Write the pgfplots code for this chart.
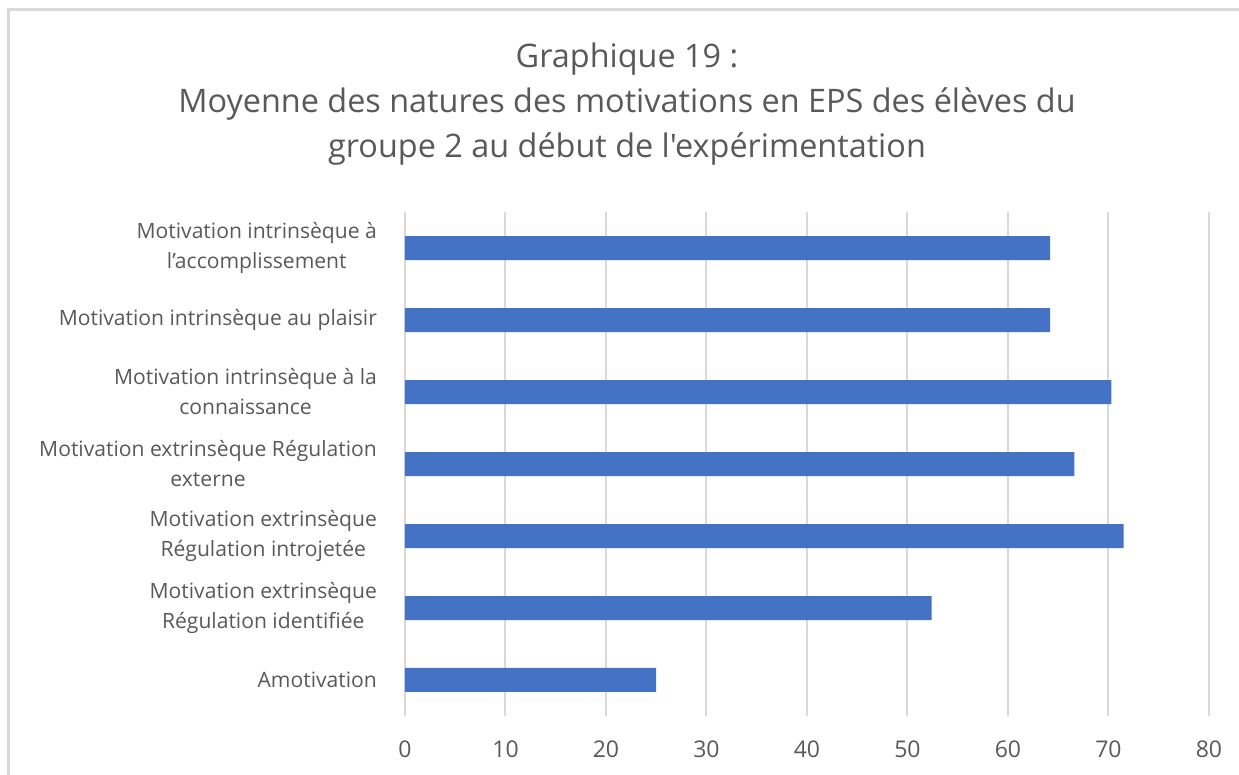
\documentclass[border=0pt]{standalone}
\usepackage{fontspec}
\setmainfont{Open Sans}
\newfontfamily\ttlfont{Open Sans}
\usepackage{pgfplots}
\pgfplotsset{compat=1.18}
\definecolor{barblue}{RGB}{68,114,196}
\definecolor{gridgray}{RGB}{217,217,217}
\definecolor{txtgray}{RGB}{89,89,89}
\begin{document}
\begin{tikzpicture}[x=0.5pt,y=0.5pt]
\path[use as bounding box] (0,0) rectangle (1239,775);
\draw[gridgray, line width=1.5pt] (8,0) -- (8,765) -- (1239,765);
\node[txtgray, font=\ttlfont\fontsize{16.2}{19}\selectfont, anchor=base] at (627,707) {Graphique 19 :};
\node[txtgray, font=\ttlfont\fontsize{16.2}{19}\selectfont, anchor=base] at (627,662) {Moyenne des natures des motivations en EPS des élèves du};
\node[txtgray, font=\ttlfont\fontsize{16.2}{19}\selectfont, anchor=base] at (627,617) {groupe 2 au début de l'expérimentation};
\begin{axis}[
  at={(202.5pt,29.5pt)}, anchor=south west,
  scale only axis, width=402pt, height=252pt,
  xmin=0, xmax=80, xtick={0,10,...,80},
  ymin=-0.5, ymax=6.5, ytick={0,...,6}, y dir=reverse,
  yticklabels={{Motivation intrinsèque à\\l’accomplissement},
               {Motivation intrinsèque au plaisir},
               {Motivation intrinsèque à la\\connaissance},
               {Motivation extrinsèque Régulation\\externe},
               {Motivation extrinsèque\\Régulation introjetée},
               {Motivation extrinsèque\\Régulation identifiée},
               {Amotivation}},
  axis line style={draw=none},
  major tick length=0pt,
  xmajorgrids, grid style={gridgray, line width=1pt},
  /pgf/number format/assume math mode=true,
  xticklabel style={txtgray, font=\fontsize{11.5}{14}\selectfont, yshift=-9pt},
  yticklabel style={txtgray, font=\fontsize{10.55}{15}\selectfont, align=center, xshift=-10.5pt},
]
\addplot[xbar, fill=barblue, draw=none, bar width=12pt]
  coordinates {(64.2,0) (64.2,1) (70.3,2) (66.6,3) (71.5,4) (52.4,5) (25.0,6)};
\end{axis}
\end{tikzpicture}
\end{document}
